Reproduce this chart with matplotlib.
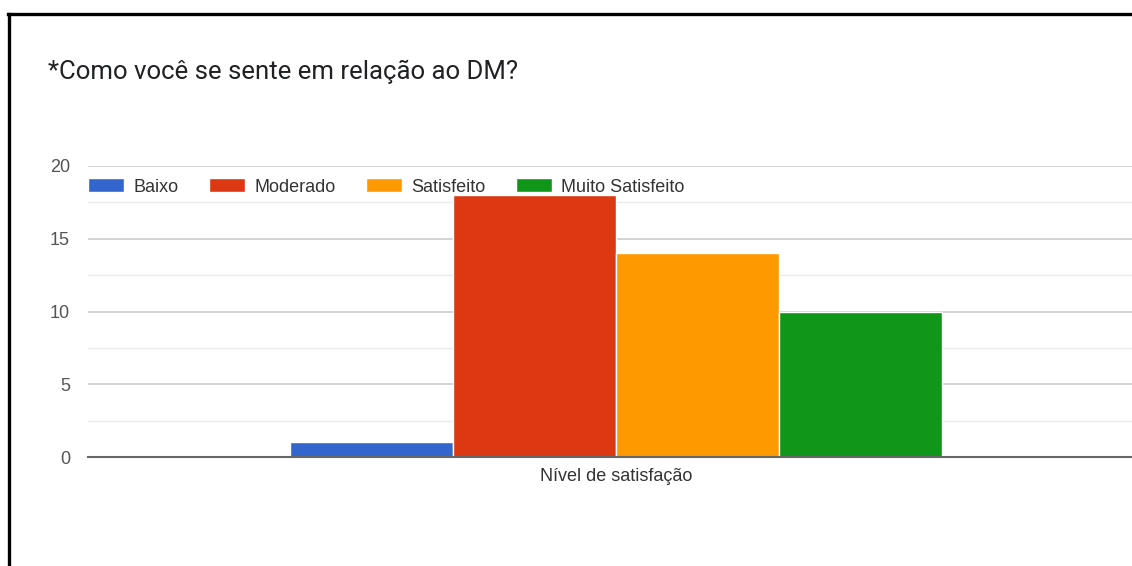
import matplotlib.pyplot as plt
from matplotlib.lines import Line2D
from matplotlib.ticker import MultipleLocator

plt.rcParams['font.family'] = ['Liberation Sans', 'DejaVu Sans']

title = "*Como você se sente em relação ao DM?"
group = "Nível de satisfação"
levels = ["Baixo", "Moderado", "Satisfeito", "Muito Satisfeito"]
counts = [1, 18, 14, 10]
colors = ["#3366cc", "#dc3912", "#ff9900", "#109618"]

W, H = 1132, 566
fig = plt.figure(figsize=(W / 100, H / 100), dpi=100)

# plot area in pixels (runs a bit past the right edge)
left, right, bottom, top = 88, 1144, 457, 166
ax = fig.add_axes([left / W, (H - bottom) / H, (right - left) / W, (bottom - top) / H])

width = 163 / (right - left)
for i, (name, val, c) in enumerate(zip(levels, counts, colors)):
    ax.bar((i - 1.5) * width, val, width, color=c, edgecolor="white",
           linewidth=1.0, label=name, zorder=3)

ax.set_xlim(-0.5, 0.5)
ax.set_ylim(0, 20)
ax.yaxis.set_major_locator(MultipleLocator(5))
ax.yaxis.set_minor_locator(MultipleLocator(2.5))
ax.grid(axis="y", which="major", color="#cccccc", linewidth=1.2, zorder=0)
ax.grid(axis="y", which="minor", color="#ebebeb", linewidth=1.0, zorder=0)
ax.set_axisbelow(True)
for s in ["top", "right", "left"]:
    ax.spines[s].set_visible(False)
ax.spines["bottom"].set_color("#666666")
ax.spines["bottom"].set_linewidth(1.5)
ax.spines["bottom"].set_zorder(4)

ax.set_xticks([0])
ax.set_xticklabels([group], fontsize=13, color="#333333")
ax.tick_params(axis="x", length=0, pad=8)
ax.tick_params(axis="y", which="both", length=0, pad=13, labelsize=13,
               labelcolor="#555555")

leg = ax.legend(loc="center left", bbox_to_anchor=(0, 1 - (187 - top) / (bottom - top)),
                ncol=4, frameon=False, fontsize=13, borderpad=0, borderaxespad=0,
                handlelength=2.0, handleheight=0.8, handletextpad=0.5,
                columnspacing=1.7)
for t in leg.get_texts():
    t.set_color("#333333")

fig.text(48 / W, 1 - 72 / H, title, fontsize=18.5, family=["Roboto", "DejaVu Sans"],
         color="#202124", va="center", ha="left")

# frame lines along the top and left
fig.add_artist(Line2D([9 / W, 9 / W], [0, 1 - 14 / H], color="black", linewidth=2.4,
                      transform=fig.transFigure))
fig.add_artist(Line2D([8 / W, 1], [1 - 14 / H, 1 - 14 / H], color="black",
                      linewidth=2.4, transform=fig.transFigure))

fig.savefig("out.png", dpi=100)
